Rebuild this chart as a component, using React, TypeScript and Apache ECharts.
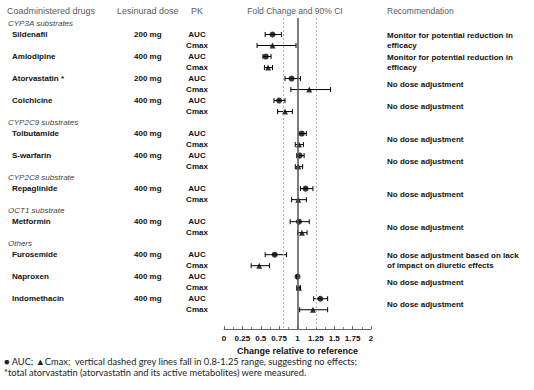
import React, { useEffect, useRef } from "react";
import * as echarts from "echarts";

// ---------- data ----------
const groupNames = ["CYP3A substrates", "CYP2C9 substrates", "CYP2C8 substrate", "OCT1 substrate", "Others"];
const drugs = ["Sildenafil", "Amlodipine", "Atorvastatin *", "Colchicine", "Tolbutamide", "S-warfarin", "Repaglinide", "Metformin", "Furosemide", "Naproxen", "Indomethacin"];
const drugGroup = [0, 0, 0, 0, 1, 1, 2, 3, 4, 4, 4];
const doses = ["200 mg", "400 mg", "200 mg", "400 mg", "400 mg", "400 mg", "400 mg", "400 mg", "400 mg", "400 mg", "400 mg"];
const pkParams = ["AUC", "Cmax"];
const aucRatio = [0.66, 0.57, 0.92, 0.75, 1.06, 1.03, 1.11, 1.02, 0.69, 1.0, 1.31];
const aucLow = [0.56, 0.53, 0.83, 0.68, 1.02, 0.99, 1.04, 0.9, 0.56, 0.99, 1.22];
const aucHigh = [0.78, 0.64, 1.04, 0.83, 1.12, 1.09, 1.21, 1.16, 0.85, 1.01, 1.41];
const cmaxRatio = [0.66, 0.6, 1.16, 0.83, 1.02, 1.01, 1.01, 1.06, 0.48, 1.02, 1.21];
const cmaxLow = [0.45, 0.55, 0.91, 0.73, 0.97, 0.97, 0.92, 1.0, 0.37, 0.99, 1.03];
const cmaxHigh = [0.98, 0.66, 1.45, 0.93, 1.08, 1.07, 1.12, 1.13, 0.62, 1.04, 1.41];
const recommendations = [
  "Monitor for potential reduction in\nefficacy",
  "Monitor for potential reduction in\nefficacy",
  "No dose adjustment",
  "No dose adjustment",
  "No dose adjustment",
  "No dose adjustment",
  "No dose adjustment",
  "No dose adjustment",
  "No dose adjustment based on lack\nof impact on diuretic effects",
  "No dose adjustment",
  "No dose adjustment",
];
const xMin = 0;
const xMax = 2;
const xStep = 0.25;
const refLines = [0.8, 1, 1.25];
const headers = ["Coadministered drugs", "Lesinurad dose", "PK", "Fold Change and 90% CI", "Recommendation"];
const xAxisTitle = "Change relative to reference";
const footnote1 = "\u25CF AUC; \u25B2Cmax;  vertical dashed grey lines fall in 0.8-1.25 range, suggesting no effects;";
const footnote2 = "*total atorvastatin (atorvastatin and its active metabolites) were measured.";

// ---------- layout of table rows (row index = line of the table) ----------
type RowMaps = {
  groupRows: Map<number, string>;
  drugRows: Map<number, string>;
  doseRows: Map<number, string>;
  pkRows: Map<number, string>;
  recRows: Map<number, string>;
  aucRow: number[];
  cmaxRow: number[];
};

function buildRows(): RowMaps {
  const groupRows = new Map<number, string>();
  const drugRows = new Map<number, string>();
  const doseRows = new Map<number, string>();
  const pkRows = new Map<number, string>();
  const recRows = new Map<number, string>();
  const aucRow: number[] = [];
  const cmaxRow: number[] = [];
  let r = 1;
  let lastGroup = -1;
  drugs.forEach((d, i) => {
    if (drugGroup[i] !== lastGroup) {
      groupRows.set(r * 4, groupNames[drugGroup[i]]);
      lastGroup = drugGroup[i];
      r += 1;
    }
    drugRows.set(r * 4, d);
    doseRows.set(r * 4, doses[i]);
    pkRows.set(r * 4, pkParams[0]);
    pkRows.set((r + 1) * 4, pkParams[1]);
    recRows.set(r * 4 + 2, recommendations[i]);
    aucRow.push(r);
    cmaxRow.push(r + 1);
    r += 2;
  });
  return { groupRows, drugRows, doseRows, pkRows, recRows, aucRow, cmaxRow };
}

const FONT = "'Liberation Sans', Arial, sans-serif";

export default function App() {
  const ref = useRef<HTMLDivElement>(null);
  useEffect(() => {
    if (!ref.current) return;
    const chart = echarts.init(ref.current, undefined, { renderer: "svg" });
    const rows = buildRows();
    const yMin = 0.5;
    const yMax = 28.75;

    const labelAxis = (
      map: Map<number, string>,
      position: "left" | "right",
      margin: number,
      align: "left" | "center" | "right",
      style: any
    ) => ({
      type: "value",
      inverse: true,
      min: yMin,
      max: yMax,
      interval: 0.25,
      position,
      offset: 0,
      axisLine: { show: false },
      axisTick: { show: false },
      splitLine: { show: false },
      axisLabel: {
        show: true,
        margin,
        align,
        verticalAlign: "middle",
        fontFamily: FONT,
        showMinLabel: true,
        showMaxLabel: true,
        formatter: (v: number) => map.get(Math.round(v * 4)) ?? "",
        ...style,
      },
    });

    const ciData = (lo: number[], hi: number[], rowIdx: number[]) =>
      lo.map((l, i) => [l, hi[i], rowIdx[i]]);

    const renderCI = (_params: any, api: any) => {
      const a = api.coord([api.value(0), api.value(2)]);
      const b = api.coord([api.value(1), api.value(2)]);
      const cap = 2.5;
      const st = { stroke: "#000", lineWidth: 1 };
      return {
        type: "group",
        children: [
          { type: "line", shape: { x1: a[0], y1: a[1], x2: b[0], y2: b[1] }, style: st },
          { type: "line", shape: { x1: a[0], y1: a[1] - cap, x2: a[0], y2: a[1] + cap }, style: st },
          { type: "line", shape: { x1: b[0], y1: b[1] - cap, x2: b[0], y2: b[1] + cap }, style: st },
        ],
      };
    };

    const headerStyle = { fill: "#5a5a5a", fontFamily: FONT, fontSize: 9 };

    chart.setOption({
      animation: false,
      backgroundColor: "#ffffff",
      grid: { left: 224, right: 163, top: 18, bottom: 61, containLabel: false, outerBoundsMode: "none" },
      xAxis: {
        type: "value",
        min: xMin,
        max: xMax,
        interval: xStep,
        name: xAxisTitle,
        nameLocation: "middle",
        nameGap: 16,
        nameTextStyle: { fontFamily: FONT, fontSize: 9, fontWeight: "bold", color: "#111" },
        axisLine: { show: true, lineStyle: { color: "#666", width: 1 } },
        axisTick: { show: true, inside: true, length: 3, lineStyle: { color: "#666" } },
        minorTick: { show: true, splitNumber: 2, length: 2, lineStyle: { color: "#888" } },
        splitLine: { show: false },
        axisLabel: {
          fontFamily: FONT,
          fontSize: 8,
          fontWeight: "bold",
          color: "#111",
          margin: 5,
          formatter: (v: number) => String(v),
        },
      },
      yAxis: [
        { type: "value", inverse: true, min: yMin, max: yMax, show: false },
        labelAxis(rows.groupRows, "left", 216, "left", { fontSize: 8, fontStyle: "italic", color: "#444" }),
        labelAxis(rows.drugRows, "left", 212, "left", { fontSize: 8, fontWeight: "bold", color: "#111" }),
        labelAxis(rows.doseRows, "left", 90, "left", { fontSize: 8, fontWeight: "bold", color: "#111" }),
        labelAxis(rows.pkRows, "left", 27, "center", { fontSize: 8, fontWeight: "bold", color: "#111" }),
        labelAxis(rows.recRows, "right", 16, "left", { fontSize: 8, fontWeight: "bold", color: "#111", lineHeight: 10 }),
      ],
      series: [
        {
          type: "line",
          data: [],
          silent: true,
          markLine: {
            silent: true,
            symbol: "none",
            label: { show: false },
            data: refLines.map((v) => ({
              xAxis: v,
              lineStyle:
                v === 1
                  ? { color: "#555", width: 1.5, type: "solid" }
                  : { color: "#b0b0b0", width: 1, type: [2, 2] },
            })),
          },
        },
        {
          type: "custom",
          renderItem: renderCI,
          encode: { x: [0, 1], y: 2 },
          data: ciData(aucLow, aucHigh, rows.aucRow),
          z: 3,
        },
        {
          type: "custom",
          renderItem: renderCI,
          encode: { x: [0, 1], y: 2 },
          data: ciData(cmaxLow, cmaxHigh, rows.cmaxRow),
          z: 3,
        },
        {
          name: "AUC",
          type: "scatter",
          symbol: "circle",
          symbolSize: 6,
          itemStyle: { color: "#000" },
          data: aucRatio.map((v, i) => [v, rows.aucRow[i]]),
          z: 4,
        },
        {
          name: "Cmax",
          type: "scatter",
          symbol: "triangle",
          symbolSize: 6,
          itemStyle: { color: "#000" },
          data: cmaxRatio.map((v, i) => [v, rows.cmaxRow[i]]),
          z: 4,
        },
      ],
      graphic: [
        { type: "text", left: 7, top: 6, style: { text: headers[0], ...headerStyle } },
        { type: "text", left: 117, top: 6, style: { text: headers[1], ...headerStyle } },
        { type: "text", left: 191, top: 6, style: { text: headers[2], ...headerStyle } },
        { type: "text", x: 295, y: 11, style: { text: headers[3], ...headerStyle, fontSize: 8.5, align: "center", verticalAlign: "middle" } },
        { type: "text", left: 387, top: 6, style: { text: headers[4], ...headerStyle, fontSize: 8.5 } },
        { type: "text", left: 4, top: 357, style: { text: footnote1, fill: "#222", fontFamily: "Lato, sans-serif", fontSize: 9.3 } },
        { type: "text", left: 4, top: 368, style: { text: footnote2, fill: "#222", fontFamily: "Lato, sans-serif", fontSize: 9.3 } },
      ],
    });
    return () => chart.dispose();
  }, []);
  return (
    <div
      ref={ref}
      style={{ position: "fixed", left: 0, top: 0, width: 534, height: 390, background: "#fff" }}
    />
  );
}
